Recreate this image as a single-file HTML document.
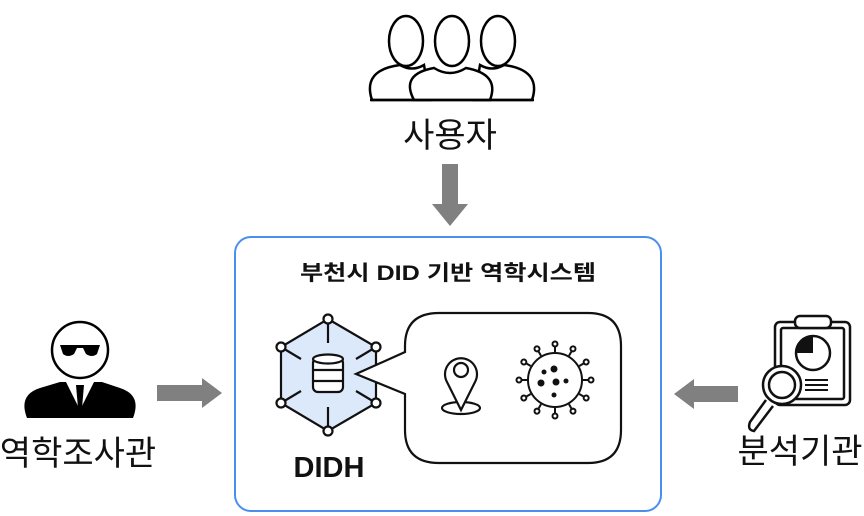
<!DOCTYPE html>
<html><head><meta charset="utf-8"><style>
body{margin:0;background:#fff;}
svg{display:block}
text{font-family:"Liberation Sans","Noto Sans CJK KR",sans-serif;}
</style></head><body>
<svg width="864" height="516" viewBox="0 0 864 516" xmlns="http://www.w3.org/2000/svg">
<g fill="#fff" stroke="#000" stroke-width="2.5">
<path d="M372,100 Q362,70 400,65 Q412,72 424,65 L430,100 Z"/>
<path d="M532,100 Q542,70 504,65 Q492,72 480,65 L474,100 Z"/>
<ellipse cx="406" cy="41" rx="17" ry="25"/>
<ellipse cx="498" cy="41" rx="17" ry="25"/>
<path d="M414,100 Q400,74 434,68 Q450,78 466,68 Q500,74 490,100 Z"/>
<ellipse cx="452" cy="41" rx="17" ry="25"/>
<line x1="370" y1="100" x2="534" y2="100"/>
</g>
<text x="450" y="147" font-size="34" text-anchor="middle" fill="#111">사용자</text>
<rect x="442" y="164" width="16" height="42" fill="#808080"/>
<polygon points="432,204 468,204 450,226" fill="#808080"/>
<rect x="235" y="237" width="426" height="274" rx="16" fill="#fff" stroke="#4a8ff0" stroke-width="2"/>
<text x="300" y="280" font-size="21" font-weight="bold" textLength="296" lengthAdjust="spacingAndGlyphs" fill="#111">부천시 DID 기반 역학시스템</text>
<g stroke="#111" stroke-width="2.2">
<polygon points="328,319 376,347 376,403 328,431 281,403 281,347" fill="#dce9fb"/>
<line x1="328" y1="319" x2="328" y2="343"/>
<line x1="328" y1="407" x2="328" y2="431"/>
<line x1="281" y1="347" x2="301" y2="359"/>
<line x1="376" y1="347" x2="356" y2="359"/>
<line x1="281" y1="403" x2="301" y2="391"/>
<line x1="376" y1="403" x2="356" y2="391"/>
<g fill="#fff">
<circle cx="328" cy="319" r="4.5"/><circle cx="376" cy="347" r="4.5"/><circle cx="376" cy="403" r="4.5"/>
<circle cx="328" cy="431" r="4.5"/><circle cx="281" cy="403" r="4.5"/><circle cx="281" cy="347" r="4.5"/>
</g>
<g fill="#fff">
<rect x="313" y="358" width="30" height="34" rx="5"/>
<ellipse cx="328" cy="359" rx="15" ry="4.5"/>
<line x1="313" y1="370" x2="343" y2="370"/>
<line x1="313" y1="381" x2="343" y2="381"/>
</g>
</g>
<text x="329" y="477" font-size="29" font-weight="bold" text-anchor="middle" fill="#111">DIDH</text>
<path d="M439,313 H588 Q621,313 621,346 V430 Q621,463 588,463 H439 Q405,463 405,430 V394 L356,374 L405,352 V346 Q405,313 439,313 Z" fill="#fff" stroke="#111" stroke-width="2.2"/>
<g stroke="#111" stroke-width="2.2" fill="none">
<ellipse cx="461" cy="408" rx="19" ry="6" fill="#fff"/>
<path d="M461,410 L447,382 A16,16 0 1 1 475,382 Z" fill="#fff"/>
<circle cx="461" cy="370" r="7"/>
</g>
<g stroke="#111" stroke-width="2" fill="#fff">
<g id="sp">
<line x1="555" y1="352" x2="555" y2="346"/><circle cx="555" cy="344" r="2.5"/>
</g>
<use href="#sp" transform="rotate(30 555 380)"/><use href="#sp" transform="rotate(60 555 380)"/>
<use href="#sp" transform="rotate(90 555 380)"/><use href="#sp" transform="rotate(120 555 380)"/>
<use href="#sp" transform="rotate(150 555 380)"/><use href="#sp" transform="rotate(180 555 380)"/>
<use href="#sp" transform="rotate(210 555 380)"/><use href="#sp" transform="rotate(240 555 380)"/>
<use href="#sp" transform="rotate(270 555 380)"/><use href="#sp" transform="rotate(300 555 380)"/>
<use href="#sp" transform="rotate(330 555 380)"/>
<circle cx="555" cy="380" r="27"/>
</g>
<g fill="#111">
<circle cx="554" cy="369" r="3.5"/><circle cx="544" cy="372" r="2.5"/><circle cx="541" cy="383" r="3.5"/>
<circle cx="556" cy="382" r="3.5"/><circle cx="566" cy="381" r="2.5"/><circle cx="554" cy="395" r="2.5"/>
</g>
<rect x="157" y="385" width="47" height="16" fill="#808080"/>
<polygon points="202,378 222,393 202,408" fill="#808080"/>
<rect x="692" y="386" width="46" height="16" fill="#808080"/>
<polygon points="694,379 674,394 694,409" fill="#808080"/>
<path d="M27,418 Q18,395 40,388 L60,382 Q80,382 102,382 L120,388 Q142,395 133,418 Z" fill="#000"/>
<polygon points="66,382 94,382 80,410" fill="#fff"/>
<polygon points="76,385 84,385 82,408 80,412 78,408" fill="#000"/>
<circle cx="80" cy="350" r="28" fill="#fff" stroke="#000" stroke-width="2.5"/>
<path d="M60,345 H100 L97,354 Q92,358 86,354 L83,348 H77 L74,354 Q68,358 63,354 Z" fill="#000"/>
<text x="78" y="465" font-size="34" text-anchor="middle" fill="#111">역학조사관</text>
<g stroke="#111" stroke-width="2.5" fill="#fff">
<rect x="775" y="322" width="75" height="83" rx="5"/>
<rect x="781" y="328" width="63" height="71" rx="2"/>
<rect x="795" y="316" width="36" height="12" rx="5"/>
<circle cx="813" cy="353" r="17"/>
</g>
<path d="M813,353 V336 A17,17 0 0 0 796,353 Z" fill="#111"/>
<g stroke="#111" stroke-width="2"><line x1="805" y1="380" x2="828" y2="380"/><line x1="805" y1="385" x2="828" y2="385"/><line x1="805" y1="390" x2="828" y2="390"/></g>
<g stroke="#111" stroke-width="2.5" fill="#fff">
<path d="M766,400 L750,422 Q747,430 754,431 L773,406"/>
<circle cx="782" cy="385" r="19"/>
<circle cx="782" cy="385" r="13"/>
</g>
<text x="800" y="463" font-size="34" text-anchor="middle" fill="#111">분석기관</text>
</svg>
</body></html>
